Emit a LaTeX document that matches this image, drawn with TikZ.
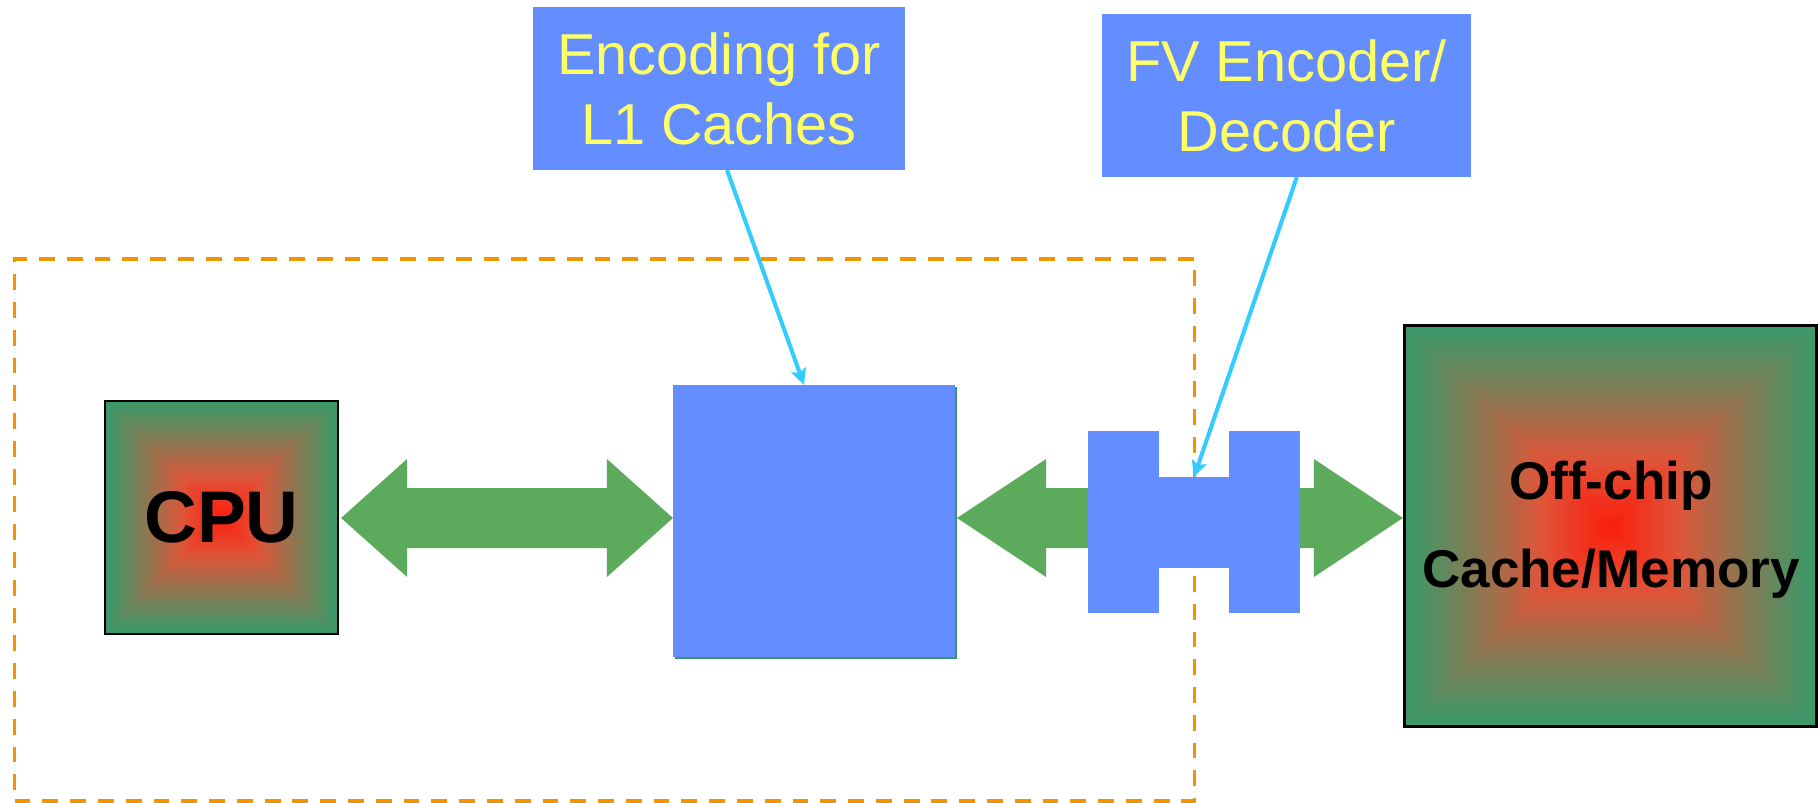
\documentclass[tikz,border=0pt]{standalone}
\usepackage{fontspec}
\usetikzlibrary{calc,arrows.meta}
\newfontfamily\arialfont{Liberation Sans}
\definecolor{boxblue}{RGB}{100,142,255}
\definecolor{txtyellow}{RGB}{255,255,102}
\definecolor{gcenter}{RGB}{252,28,12}
\definecolor{gmid}{RGB}{222,86,58}
\definecolor{gedge}{RGB}{60,152,104}
\definecolor{bandgreen}{RGB}{92,170,92}
\definecolor{chiporange}{RGB}{242,148,0}
\definecolor{pointcyan}{RGB}{51,204,255}
\definecolor{shadowgreen}{RGB}{60,150,100}
\newcommand\gradfill[4]{%
  \foreach \i in {0,...,59}{%
    \pgfmathsetmacro\gt{1-\i/60}%
    \pgfmathsetmacro\ga{\gt<0.35 ? 100*(1-\gt/0.35) : 0}%
    \pgfmathsetmacro\gb{\gt<0.35 ? 100 : 100*((1-\gt)/0.65)^1.15}%
    \fill[gcenter!\ga!gmid!\gb!gedge] ({#1-\gt*#3},{#2-\gt*#4}) rectangle ({#1+\gt*#3},{#2+\gt*#4});
  }}
\newcommand\blockarrow[3]{%
  \fill[bandgreen] (#1) -- ($(#1)+(#3,-59)$) -- ($(#1)+(#3,-30)$) -- ($(#2)+(-#3,-30)$) -- ($(#2)+(-#3,-59)$) -- (#2)
    -- ($(#2)+(-#3,59)$) -- ($(#2)+(-#3,30)$) -- ($(#1)+(#3,30)$) -- ($(#1)+(#3,59)$) -- cycle;}
\begin{document}
\begin{tikzpicture}[x=0.01cm,y=-0.01cm,
  every node/.style={inner sep=0pt,outer sep=0pt},
  chipframe/.style={draw=chiporange,line width=1pt,dash pattern=on 4.5pt off 3.4pt},
  darkframe/.style={draw=black,line width=0.8pt},
  bluebox/.style={fill=boxblue},
  labelbox/.style={fill=boxblue,align=center,text=txtyellow,font=\arialfont\fontsize{16.4}{19.9}\selectfont},
  boldtext/.style={font=\arialfont\bfseries\fontsize{#1}{25}\selectfont,align=center},
  cyanarrow/.style={draw=pointcyan,line width=1.15pt,-{Stealth[length=4.6pt,width=4.4pt,inset=1pt]}}]
\useasboundingbox (0,0) rectangle (1818,803);
% on-chip frame
\node[chipframe,minimum width=11.79cm,minimum height=5.42cm] (chip) at (604.5,530) {};
% CPU
\gradfill{221.5}{517.5}{116.5}{116.5}
\node[darkframe,minimum width=2.33cm,minimum height=2.33cm] (cpu) at (221.5,517.5) {};
\node[boldtext=20.8] (cputext) at (cpu.center) {CPU};
% Off-chip
\gradfill{1610.5}{526}{205.5}{200}
\node[darkframe,minimum width=4.11cm,minimum height=4.0cm] (off) at (1610.5,526) {};
\node[boldtext=15.1] (offtext) at (1611,530) {Off-chip\\Cache/Memory};
% L1
\fill[shadowgreen] (675,387) rectangle (957,659);
\node[bluebox,minimum width=2.82cm,minimum height=2.72cm] (l1) at (814,521) {};
% block arrows
\coordinate (la) at ($(cpu.east)+(3,0.5)$);
\coordinate (lb) at (l1.west |- la);
\blockarrow{la}{lb}{66}
\coordinate (ma) at ($(l1.east |- la)+(2,0)$);
\coordinate (mb) at ($(off.west |- la)+(-2,0)$);
\blockarrow{ma}{mb}{89}
% FV encoder/decoder unit
\node[bluebox,minimum width=0.70cm,minimum height=0.91cm] (fvunit) at (1194,522.5) {};
\fill[boxblue] ($(fvunit.north west)+(-71,-46)$) rectangle ($(fvunit.south west)+(0,45)$);
\fill[boxblue] ($(fvunit.north east)+(0,-46)$) rectangle ($(fvunit.south east)+(71,45)$);
% labels
\node[labelbox,minimum width=3.72cm,minimum height=1.63cm] (enc) at (719,88.5) {Encoding for\\L1 Caches};
\node[labelbox,minimum width=3.69cm,minimum height=1.63cm] (fvlabel) at (1286.5,95.5) {FV Encoder/\\Decoder};
% pointers
\draw[cyanarrow] ($(enc.south west)!0.5215!(enc.south east)$) -- ($(l1.north west)!0.4645!(l1.north east)$);
\draw[cyanarrow] ($(fvlabel.south west)!0.528!(fvlabel.south east)$) -- (fvunit.north);
\end{tikzpicture}
\end{document}
